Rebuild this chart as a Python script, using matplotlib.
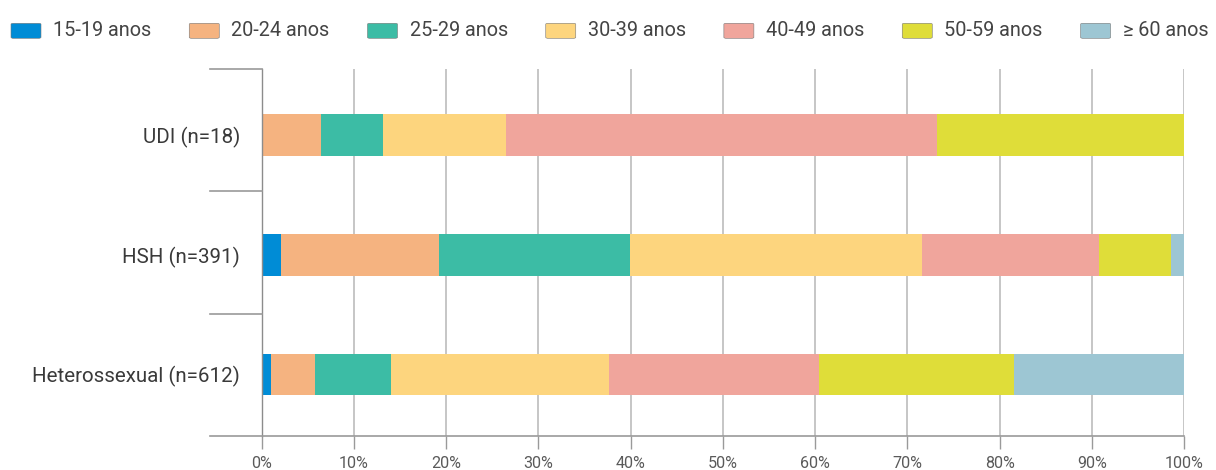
import matplotlib
matplotlib.use('Agg')
import matplotlib.pyplot as plt
from matplotlib import font_manager
from matplotlib.patches import FancyBboxPatch
import matplotlib.transforms as mtransforms
import numpy as np

# ---------------- data ----------------
categories = ['UDI (n=18)', 'HSH (n=391)', 'Heterossexual (n=612)']
age_groups = ['15-19 anos', '20-24 anos', '25-29 anos', '30-39 anos',
              '40-49 anos', '50-59 anos', '≥ 60 anos']
v_15_19 = [0.0, 2.1, 1.0]
v_20_24 = [6.4, 17.1, 4.8]
v_25_29 = [6.8, 20.7, 8.2]
v_30_39 = [13.3, 31.7, 23.6]
v_40_49 = [46.7, 19.2, 22.8]
v_50_59 = [26.8, 7.8, 21.2]
v_60_mais = [0.0, 1.4, 18.4]
series = [v_15_19, v_20_24, v_25_29, v_30_39, v_40_49, v_50_59, v_60_mais]
x_ticks = [0, 10, 20, 30, 40, 50, 60, 70, 80, 90, 100]
x_tick_labels = [f'{t}%' for t in x_ticks]
colors = ['#008CD6', '#F5B380', '#3CBCA5', '#FDD57E', '#F0A59C', '#DFDD39', '#9DC6D3']

# ---------------- fonts ----------------
available = {f.name for f in font_manager.fontManager.ttflist}
family = 'Roboto' if 'Roboto' in available else 'DejaVu Sans'
plt.rcParams['font.family'] = [family, 'DejaVu Sans']

W, H = 1216, 470
fig = plt.figure(figsize=(W / 100, H / 100), dpi=100)
fig.patch.set_facecolor('white')

left_px, right_px, top_px, bottom_px = 261.7, 1184.2, 69, 436
ax = fig.add_axes([left_px / W, 1 - bottom_px / H,
                   (right_px - left_px) / W, (bottom_px - top_px) / H])

y = np.arange(len(categories))
left = np.zeros(len(categories))
for vals, lab, col in zip(series, age_groups, colors):
    ax.barh(y, vals, left=left, height=0.348, color=col, label=lab,
            edgecolor='none', zorder=3)
    left = left + np.array(vals)

ax.set_xlim(0, 100)
ax.set_ylim(2.513, -0.549)

ax.set_xticks(x_ticks)
ax.set_xticklabels(x_tick_labels, fontsize=11.6, color='#5a5a5a')
ax.tick_params(axis='x', length=9.4, width=1, color='#9a9a9a', pad=5)
ax.set_yticks(y)
ax.set_yticklabels(categories, fontsize=14.8, color='#3a3a3a')
ax.tick_params(axis='y', length=0, pad=15.5)

ax.grid(axis='x', color='#c6c6c6', linewidth=1.4, zorder=0)
ax.grid(axis='y', visible=False)
for s in ['top', 'right', 'bottom']:
    ax.spines[s].set_visible(False)
ax.spines['left'].set_color('#8c8c8c')
ax.spines['left'].set_linewidth(1.0)
ax.spines['left'].set_zorder(4)

# bottom axis line extending left, and category separators
tr = mtransforms.blended_transform_factory(ax.transAxes, ax.transData)
ext = -(left_px - 210) / (right_px - left_px)
ax.plot([ext, 1], [2.513, 2.513], transform=tr, color='#9a9a9a', lw=1.2,
        clip_on=False, zorder=5)
for sep in [-0.549, 0.469, 1.493]:
    ax.plot([ext, 0], [sep, sep], transform=tr, color='#9a9a9a', lw=1.2,
            clip_on=False, zorder=5)

# ---------------- legend (manual, Chart.js-like) ----------------
renderer = fig.canvas.get_renderer()
x = 11.0
yc = 30.8
box_w, box_h = 30.0, 15.0
for lab, col in zip(age_groups, colors):
    p = FancyBboxPatch((x / W, 1 - (yc + box_h / 2) / H), box_w / W, box_h / H,
                       boxstyle='round,pad=0,rounding_size=0.002',
                       transform=fig.transFigure, facecolor=col,
                       edgecolor='#777777', linewidth=0.4)
    fig.patches.append(p)
    t = fig.text((x + box_w + 12) / W, 1 - yc / H, lab, fontsize=14.3,
                 color='#444444', va='center', ha='left')
    tw = t.get_window_extent(renderer).width
    x = x + box_w + 12 + tw + 38

fig.savefig('out.png', dpi=100, facecolor='white')
